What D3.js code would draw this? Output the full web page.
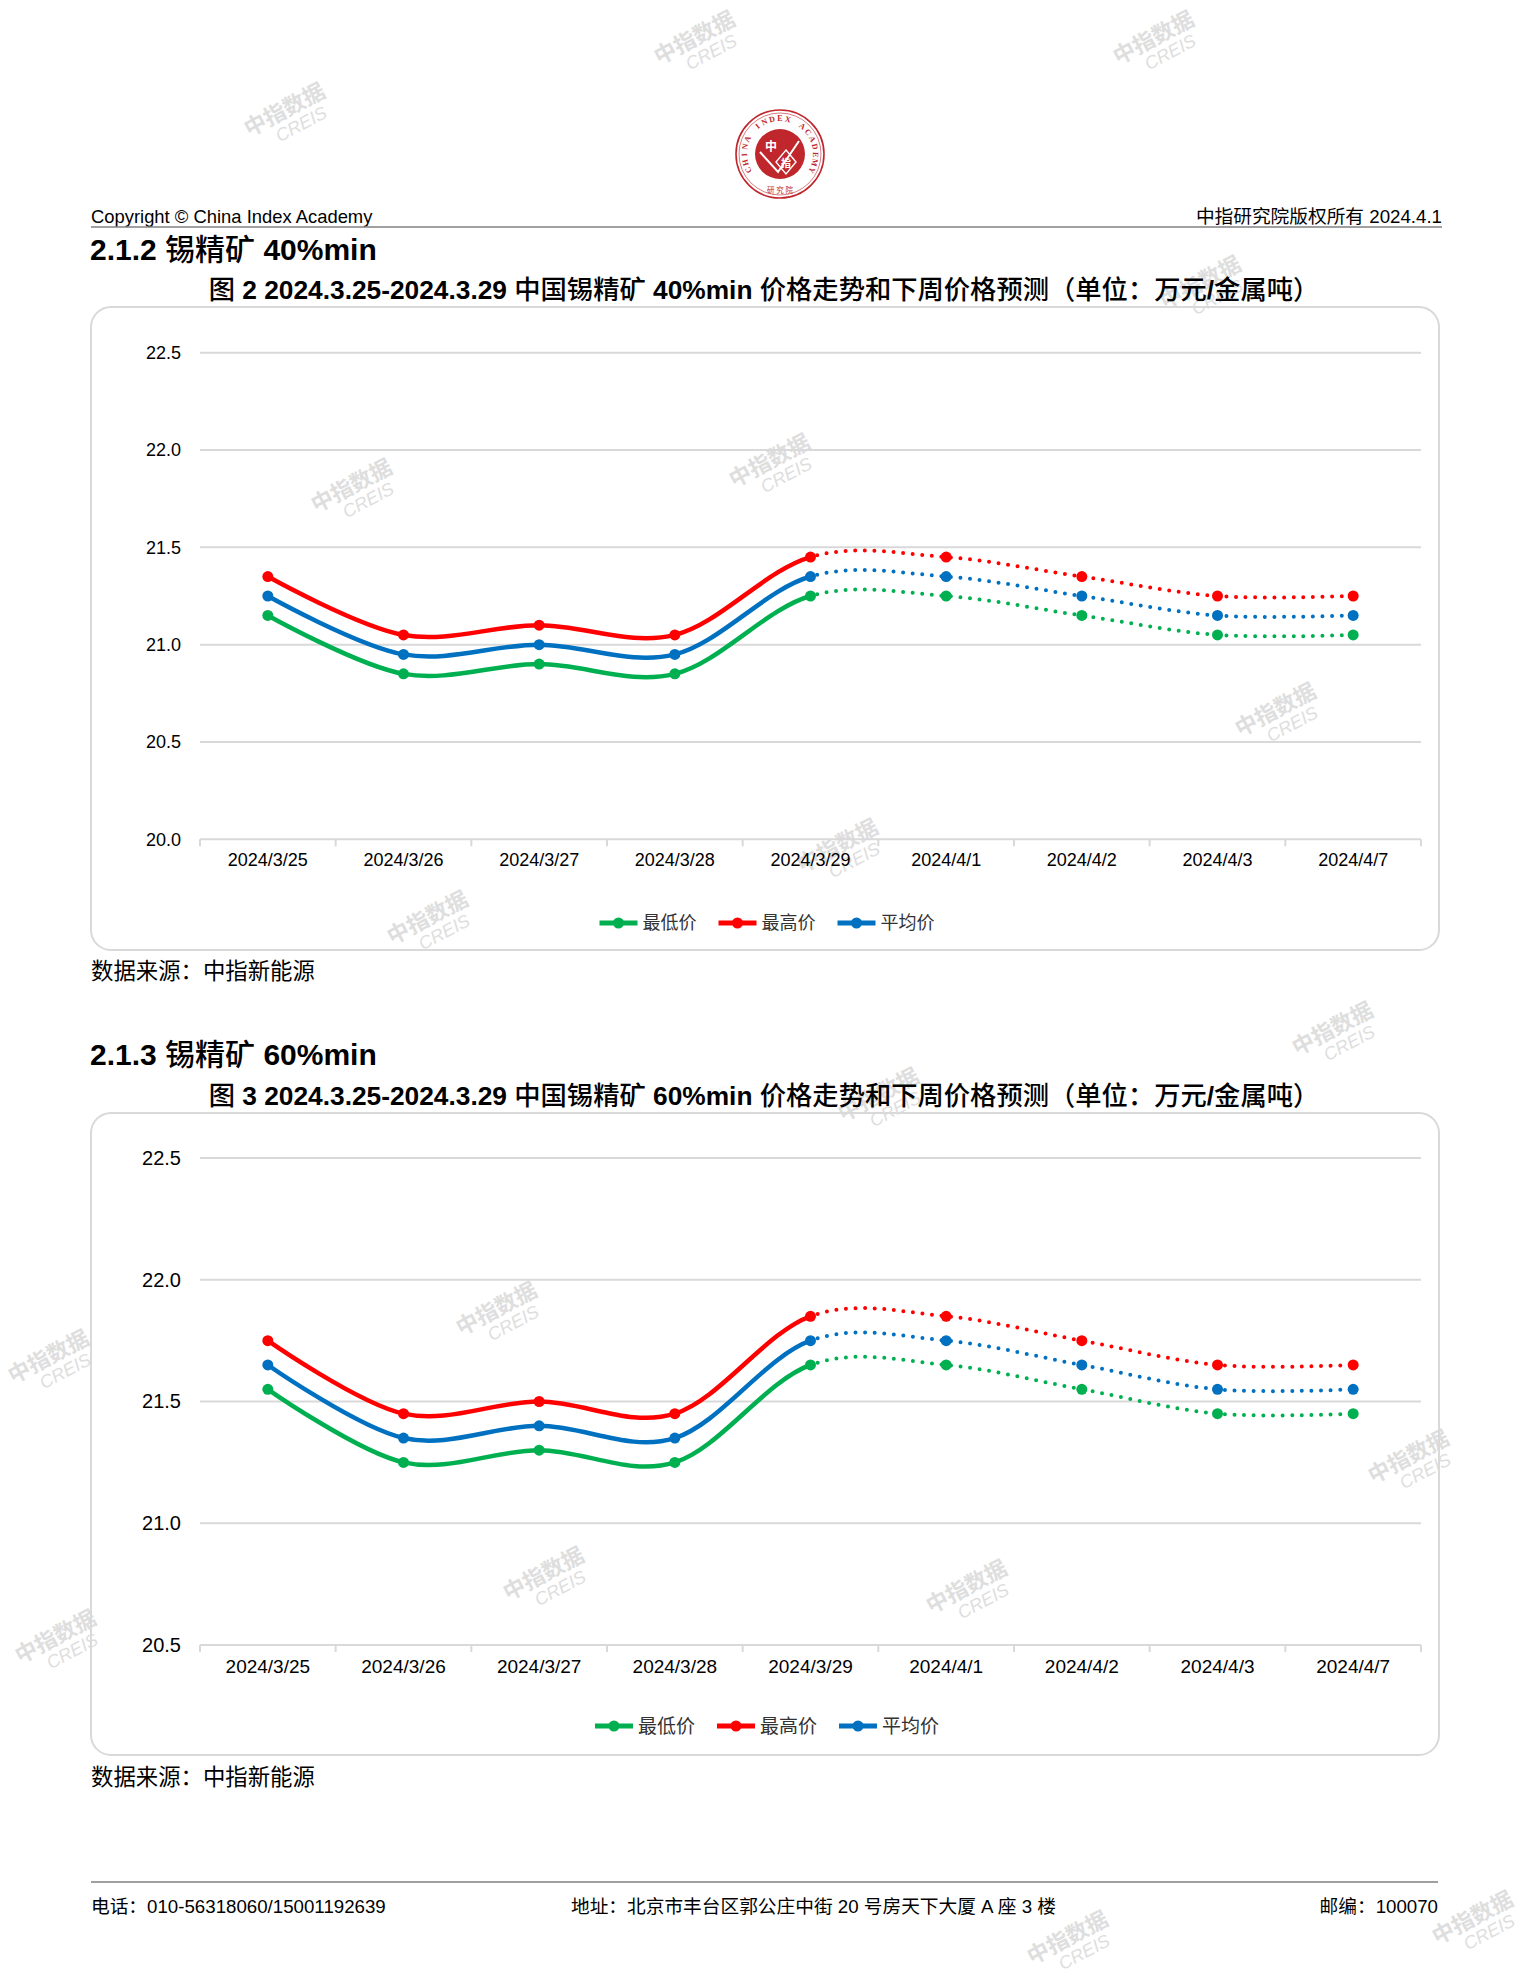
<!DOCTYPE html>
<html>
<head>
<meta charset="utf-8">
<script src="https://cdn.jsdelivr.net/npm/d3@7"></script>
<style>
  body { margin: 0; background: #fff; }
  text { white-space: pre; }
</style>
</head>
<body>
<svg width="1530" height="1980"></svg>
<script>
// ---- data ----
const dates = ["2024/3/25", "2024/3/26", "2024/3/27", "2024/3/28", "2024/3/29",
               "2024/4/1", "2024/4/2", "2024/4/3", "2024/4/7"];
const seriesNames = ["最低价", "最高价", "平均价"];
const forecastFrom = "2024/3/29"; // dotted from here on

// 锡精矿 40%min
const low40  = [21.15, 20.85, 20.90, 20.85, 21.25, 21.25, 21.15, 21.05, 21.05];
const high40 = [21.35, 21.05, 21.10, 21.05, 21.45, 21.45, 21.35, 21.25, 21.25];
const avg40  = [21.25, 20.95, 21.00, 20.95, 21.35, 21.35, 21.25, 21.15, 21.15];
const yTicks40 = [20.0, 20.5, 21.0, 21.5, 22.0, 22.5];

// 锡精矿 60%min
const low60  = [21.55, 21.25, 21.30, 21.25, 21.65, 21.65, 21.55, 21.45, 21.45];
const high60 = [21.75, 21.45, 21.50, 21.45, 21.85, 21.85, 21.75, 21.65, 21.65];
const avg60  = [21.65, 21.35, 21.40, 21.35, 21.75, 21.75, 21.65, 21.55, 21.55];
const yTicks60 = [20.5, 21.0, 21.5, 22.0, 22.5];

// ---- styles ----
const colors = ["#00b050", "#ff0000", "#0070c0"];
const sans = "'Liberation Sans', Arial, sans-serif";
const cjk = "'Noto Sans CJK SC', 'Noto Sans', sans-serif";
const gridColor = "#d9d9d9";

const svg = d3.select("svg");
const width = +svg.attr("width");

// write a string as tspans: latin runs in Arial, CJK runs in Noto Sans CJK
function mixedText(sel, str, latinWeight, cjkWeight) {
  const runs = str.match(/[\x00-\u00ff]+|[^\x00-\u00ff]+/g);
  runs.forEach(r => {
    const latin = /^[\x00-\u00ff]/.test(r);
    sel.append("tspan")
      .attr("font-family", latin ? sans : cjk)
      .attr("font-weight", latin ? latinWeight : cjkWeight)
      .text(r);
  });
  return sel;
}

// ---- watermarks (behind everything, chart boxes are unfilled) ----
const marks = svg.append("g").attr("class", "watermarks");
const markPos = [[700, 48], [1159, 48], [290, 120], [1206, 293], [357, 496], [775, 471],
  [1281, 720], [843, 856], [433, 928], [1338, 1039], [884, 1105], [502, 1319], [54, 1367],
  [1414, 1467], [549, 1584], [972, 1597], [61, 1647], [1478, 1928], [1073, 1948]];
markPos.forEach(([x, y]) => {
  const g = marks.append("g").attr("transform", `translate(${x},${y}) rotate(-28)`);
  g.append("text")
    .attr("text-anchor", "middle")
    .attr("y", -4)
    .attr("font-family", cjk)
    .attr("font-weight", "bold")
    .attr("font-size", 22)
    .attr("fill", "#d4d4d4")
    .attr("opacity", 0.75)
    .text("中指数据");
  g.append("text")
    .attr("text-anchor", "middle")
    .attr("x", 8)
    .attr("y", 15)
    .attr("font-family", sans)
    .attr("font-style", "italic")
    .attr("font-size", 18)
    .attr("fill", "#d4d4d4")
    .attr("opacity", 0.75)
    .text("CREIS");
});

// ---- header ----
const logoRed = "#c0272d";
const logo = svg.append("g").attr("transform", "translate(780,154)");
logo.append("circle").attr("r", 44).attr("fill", "#fff").attr("stroke", logoRed).attr("stroke-width", 1.6);
logo.append("circle").attr("r", 41).attr("fill", "none").attr("stroke", logoRed).attr("stroke-width", 0.6);
logo.append("circle").attr("r", 25).attr("fill", logoRed);
// ring lettering, one glyph at a time round the top
const ring = "CHINA INDEX ACADEMY";
const ringStep = 13; // degrees per glyph
ring.split("").forEach((ch, i) => {
  const a = (i - (ring.length - 1) / 2) * ringStep;
  logo.append("text")
    .attr("transform", `rotate(${a}) translate(0,-33)`)
    .attr("text-anchor", "middle")
    .attr("font-family", "'Liberation Serif', serif")
    .attr("font-weight", "bold")
    .attr("font-size", 8)
    .attr("fill", logoRed)
    .text(ch);
});
logo.append("text")
  .attr("y", 39)
  .attr("text-anchor", "middle")
  .attr("font-family", cjk)
  .attr("font-size", 7.5)
  .attr("fill", logoRed)
  .text("研 究 院");
logo.append("polyline")
  .attr("points", "-20,-2 -2,18 19,-13")
  .attr("fill", "none").attr("stroke", "#fff").attr("stroke-width", 2);
logo.append("polygon")
  .attr("points", "6,-4 16,8 6,20 -4,8")
  .attr("fill", "none").attr("stroke", "#fff").attr("stroke-width", 1.4);
logo.append("text").attr("x", -9).attr("y", -3).attr("text-anchor", "middle")
  .attr("font-family", cjk).attr("font-weight", "bold").attr("font-size", 12).attr("fill", "#fff").text("中");
logo.append("text").attr("x", 6).attr("y", 13).attr("text-anchor", "middle")
  .attr("font-family", cjk).attr("font-weight", "bold").attr("font-size", 10).attr("fill", "#fff").text("指");

mixedText(svg.append("text").attr("x", 91).attr("y", 223).attr("font-size", 18.4).attr("fill", "#000"),
  "Copyright © China Index Academy", "normal", "normal");
mixedText(svg.append("text").attr("x", 1442).attr("y", 223).attr("text-anchor", "end")
  .attr("font-size", 18.7).attr("fill", "#000"), "中指研究院版权所有 2024.4.1", "normal", "normal");
svg.append("line").attr("x1", 91).attr("x2", 1442).attr("y1", 227).attr("y2", 227)
  .attr("stroke", "#808080").attr("stroke-width", 1.5);

// ---- chart drawing ----
function drawChart(cfg) {
  const { id, heading, headingY, title, titleY, box, yDomain, yRange, yTicks, series,
          fontSize, yFontSize, xPad, legendY, sourceY } = cfg;

  mixedText(svg.append("text").attr("x", 90).attr("y", headingY).attr("font-size", 30).attr("fill", "#000"),
    heading, "bold", "500");
  mixedText(svg.append("text").attr("x", 764).attr("y", titleY).attr("text-anchor", "middle")
    .attr("font-size", 26.3).attr("fill", "#000"), title, "bold", "500");

  svg.append("rect")
    .attr("x", box.x).attr("y", box.y)
    .attr("width", box.w).attr("height", box.h)
    .attr("rx", 20).attr("ry", 20)
    .attr("fill", "none")
    .attr("stroke", gridColor).attr("stroke-width", 2);

  const x = d3.scaleBand().domain(dates).range([200, 1421]);
  const y = d3.scaleLinear().domain(yDomain).range(yRange);
  const cx = d => x(d) + x.bandwidth() / 2;

  const g = svg.append("g");

  // gridlines
  g.selectAll(".grid").data(yTicks).enter().append("line")
    .attr("x1", x.range()[0]).attr("x2", x.range()[1])
    .attr("y1", d => y(d)).attr("y2", d => y(d))
    .attr("stroke", gridColor).attr("stroke-width", 2);

  // category boundary ticks on the base line
  const edges = dates.map(d => x(d)).concat([x.range()[1]]);
  g.selectAll(".xtick").data(edges).enter().append("line")
    .attr("x1", d => d).attr("x2", d => d)
    .attr("y1", y(yDomain[0])).attr("y2", y(yDomain[0]) + 7)
    .attr("stroke", gridColor).attr("stroke-width", 2);

  // axes (labels only)
  const yAxis = g.append("g").attr("transform", `translate(${x.range()[0]},0)`)
    .call(d3.axisLeft(y).tickValues(yTicks).tickFormat(d3.format(".1f")).tickSize(0).tickPadding(19));
  yAxis.select(".domain").remove();
  yAxis.selectAll("text").attr("font-family", sans).attr("font-size", yFontSize).attr("fill", "#000");

  const xAxis = g.append("g").attr("transform", `translate(0,${y(yDomain[0])})`)
    .call(d3.axisBottom(x).tickSize(0).tickPadding(xPad));
  xAxis.select(".domain").remove();
  xAxis.selectAll("text").attr("font-family", sans).attr("font-size", fontSize).attr("fill", "#000");

  // lines: one smoothed path, clipped into solid (actual) and dotted (forecast) parts
  const splitX = cx(forecastFrom);
  const defs = svg.append("defs");
  defs.append("clipPath").attr("id", `${id}-solid`).append("rect")
    .attr("x", 0).attr("y", box.y).attr("width", splitX).attr("height", box.h);
  defs.append("clipPath").attr("id", `${id}-dot`).append("rect")
    .attr("x", splitX).attr("y", box.y).attr("width", width - splitX).attr("height", box.h);

  const line = d3.line()
    .x((d, i) => cx(dates[i]))
    .y(d => y(d))
    .curve(d3.curveCardinal.tension(0));

  series.forEach((vals, k) => {
    g.append("path").attr("d", line(vals))
      .attr("fill", "none").attr("stroke", colors[k]).attr("stroke-width", 4.5)
      .attr("stroke-linejoin", "round")
      .attr("clip-path", `url(#${id}-solid)`);
    g.append("path").attr("d", line(vals))
      .attr("fill", "none").attr("stroke", colors[k]).attr("stroke-width", 4)
      .attr("stroke-linecap", "round").attr("stroke-dasharray", "0 9.6")
      .attr("clip-path", `url(#${id}-dot)`);
    g.selectAll(`.pt${k}`).data(vals).enter().append("circle")
      .attr("cx", (d, i) => cx(dates[i]))
      .attr("cy", d => y(d))
      .attr("r", 5.5)
      .attr("fill", colors[k]);
  });

  // legend
  const legend = svg.append("g");
  let lx = 0;
  seriesNames.forEach((name, k) => {
    const item = legend.append("g").attr("transform", `translate(${lx},0)`);
    item.append("line").attr("x1", 0).attr("x2", 38).attr("y1", 0).attr("y2", 0)
      .attr("stroke", colors[k]).attr("stroke-width", 5);
    item.append("circle").attr("cx", 19).attr("r", 5.5).attr("fill", colors[k]);
    const t = item.append("text").attr("x", 43).attr("y", fontSize * 0.36)
      .attr("font-family", cjk).attr("font-size", fontSize).attr("fill", "#333").text(name);
    lx += 43 + t.node().getComputedTextLength() + 22;
  });
  const legendW = lx - 22;
  legend.attr("transform", `translate(${767 - legendW / 2},${legendY})`);

  // source
  svg.append("text").attr("x", 91).attr("y", sourceY)
    .attr("font-family", cjk).attr("font-size", 22.4).attr("fill", "#000")
    .text("数据来源：中指新能源");
}

drawChart({
  id: "c40",
  heading: "2.1.2 锡精矿 40%min", headingY: 260,
  title: "图 2 2024.3.25-2024.3.29 中国锡精矿 40%min 价格走势和下周价格预测（单位：万元/金属吨）", titleY: 299,
  box: { x: 91, y: 307, w: 1348, h: 643 },
  yDomain: [20.0, 22.5], yRange: [839.3, 352.7], yTicks: yTicks40,
  series: [low40, high40, avg40],
  fontSize: 18, yFontSize: 18, xPad: 14, legendY: 923, sourceY: 979
});

drawChart({
  id: "c60",
  heading: "2.1.3 锡精矿 60%min", headingY: 1065,
  title: "图 3 2024.3.25-2024.3.29 中国锡精矿 60%min 价格走势和下周价格预测（单位：万元/金属吨）", titleY: 1105,
  box: { x: 91, y: 1113, w: 1348, h: 642 },
  yDomain: [20.5, 22.5], yRange: [1645, 1158], yTicks: yTicks60,
  series: [low60, high60, avg60],
  fontSize: 19, yFontSize: 20, xPad: 15, legendY: 1726, sourceY: 1785
});

// ---- footer ----
svg.append("line").attr("x1", 91).attr("x2", 1438).attr("y1", 1882).attr("y2", 1882)
  .attr("stroke", "#808080").attr("stroke-width", 1.5);
mixedText(svg.append("text").attr("x", 91).attr("y", 1913).attr("font-size", 18.7).attr("fill", "#000"),
  "电话：010-56318060/15001192639", "normal", "normal");
mixedText(svg.append("text").attr("x", 571).attr("y", 1913).attr("font-size", 18.7).attr("fill", "#000"),
  "地址：北京市丰台区郭公庄中街 20 号房天下大厦 A 座 3 楼", "normal", "normal");
mixedText(svg.append("text").attr("x", 1438).attr("y", 1913).attr("text-anchor", "end")
  .attr("font-size", 18.7).attr("fill", "#000"), "邮编：100070", "normal", "normal");
</script>
</body>
</html>
